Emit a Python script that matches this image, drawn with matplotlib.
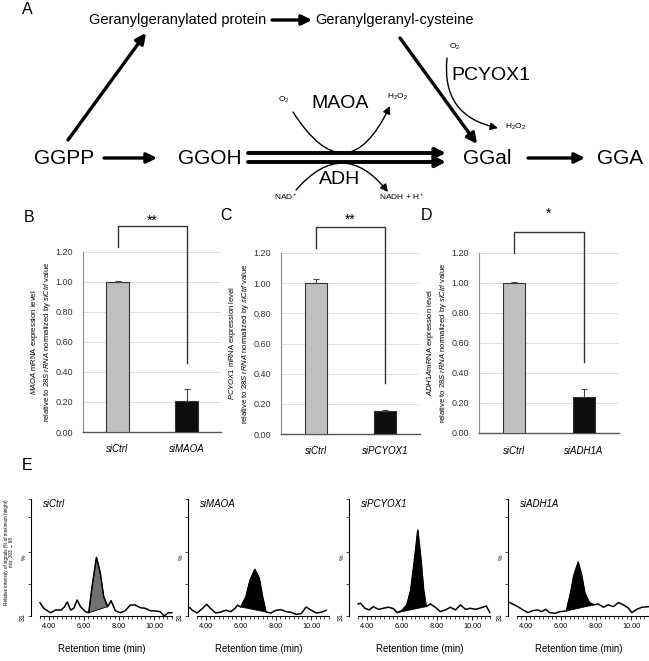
import matplotlib

matplotlib.use("Agg")
import matplotlib.pyplot as plt
import numpy as np
from matplotlib.ticker import FixedLocator

W, H = 649, 661

plt.rcParams["font.family"] = ["Liberation Sans", "DejaVu Sans"]
plt.rcParams["mathtext.fontset"] = "custom"
plt.rcParams["mathtext.rm"] = "Liberation Sans"
plt.rcParams["mathtext.it"] = "Liberation Sans:italic"

# ---- panel A: pathway labels
PATHWAY_NODES = ["GGPP", "GGOH", "GGal", "GGA"]
PROTEIN_NODES = ["Geranylgeranylated protein", "Geranylgeranyl-cysteine"]
ENZYMES = ["MAOA", "ADH", "PCYOX1"]

# ---- panels B-D: mRNA levels relative to siCtrl
CTRL_LABEL = "siCtrl"
KNOCKDOWNS = ["siMAOA", "siPCYOX1", "siADH1A"]
GENES = ["MAOA", "PCYOX1", "ADH1A"]
CTRL_MEAN = [1.00, 1.00, 1.00]
CTRL_ERR = [0.01, 0.03, 0.01]
KD_MEAN = [0.21, 0.15, 0.24]
KD_ERR = [0.08, 0.012, 0.055]
SIGNIF = ["**", "**", "*"]
BAR_YTICKS = [0.0, 0.2, 0.4, 0.6, 0.8, 1.0, 1.2]

# ---- panel E: chromatograms, retention time (min) vs % of max height
CTRL_T = [3.51, 3.73, 4.11, 4.40, 4.72, 4.91, 5.06, 5.25, 5.43, 5.62, 5.81, 6.09,
          6.28, 6.47, 6.72, 6.94, 7.13, 7.36, 7.55, 7.79, 8.07, 8.36, 8.64, 8.92,
          9.21, 9.49, 9.77, 10.06, 10.34, 10.56, 10.81, 11.0]
CTRL_V = [11.4, 6.5, 2.8, 5.1, 5.1, 8.0, 12.0, 5.1, 6.6, 13.7, 8.0, 3.7,
          2.8, 25.0, 50.2, 36.5, 16.5, 8.0, 13.1, 4.5, 2.8, 4.5, 9.4, 9.4,
          7.1, 6.6, 4.5, 4.3, 3.7, 0.0, 2.8, 2.8]

MAOA_T = [3.0, 3.10, 3.24, 3.52, 3.81, 4.06, 4.29, 4.57, 4.86, 5.14, 5.43, 5.66,
          5.81, 6.00, 6.29, 6.53, 6.80, 7.05, 7.24, 7.43, 7.71, 8.00, 8.29, 8.57,
          8.86, 9.14, 9.43, 9.71, 10.0, 10.29, 10.57, 10.86]
MAOA_V = [6.6, 7.2, 4.9, 2.6, 6.3, 10.0, 6.3, 2.6, 3.4, 4.9, 3.7, 6.3,
          9.2, 7.7, 16.3, 30.7, 39.8, 32.1, 16.3, 3.4, 2.6, 4.9, 5.4, 3.7,
          3.2, 1.4, 2.0, 7.7, 4.9, 2.6, 3.2, 4.9]

PCYOX1_T = [3.52, 3.66, 3.90, 4.15, 4.38, 4.67, 4.95, 5.24, 5.52, 5.75, 6.00, 6.29,
            6.51, 6.70, 6.91, 7.09, 7.24, 7.39, 7.62, 7.90, 8.19, 8.48, 8.76, 9.05,
            9.33, 9.62, 9.90, 10.19, 10.48, 10.80, 11.0]
PCYOX1_V = [10.3, 10.9, 6.6, 5.2, 8.0, 5.7, 6.6, 7.5, 6.3, 2.9, 4.6, 9.5,
            22.4, 45.4, 73.3, 48.3, 22.4, 8.0, 10.3, 7.5, 3.7, 5.2, 7.5, 5.2,
            9.5, 5.7, 6.6, 5.7, 6.9, 8.6, 2.9]

ADH1A_T = [3.0, 3.28, 3.56, 3.85, 4.13, 4.42, 4.70, 4.90, 5.14, 5.37, 5.66, 5.94,
           6.32, 6.55, 6.74, 6.99, 7.18, 7.37, 7.62, 7.89, 8.13, 8.42, 8.70, 8.99,
           9.28, 9.56, 9.85, 10.04, 10.32, 10.61, 10.99]
ADH1A_V = [12.1, 10.1, 8.0, 5.2, 2.9, 4.6, 5.2, 3.7, 5.7, 2.9, 2.3, 3.7,
           4.3, 19.5, 34.5, 46.0, 35.3, 19.5, 11.5, 9.5, 10.3, 7.5, 9.5, 8.0,
           11.5, 9.5, 6.6, 2.9, 5.7, 7.5, 8.0]

CHROM_TITLES = ["siCtrl", "siMAOA", "siPCYOX1", "siADH1A"]
CHROM_T = [CTRL_T, MAOA_T, PCYOX1_T, ADH1A_T]
CHROM_V = [CTRL_V, MAOA_V, PCYOX1_V, ADH1A_V]
PEAK_RANGE = [(6.28, 7.36), (6.00, 7.43), (5.75, 7.39), (6.32, 7.89)]
CHROM_XTICKS = [4, 6, 8, 10]


def px_axes(fig, x0, y0, x1, y1):
    return fig.add_axes([x0 / W, 1 - y1 / H, (x1 - x0) / W, (y1 - y0) / H])


def arrow(ax, start, end, lw=2.4, rad=0.0, head=0.6):
    ax.annotate("", xy=end, xytext=start,
                arrowprops=dict(arrowstyle=f"-|>,head_length={head},head_width={head * 0.5}",
                                lw=lw, color="black", shrinkA=0, shrinkB=0,
                                connectionstyle=f"arc3,rad={rad}"))


fig = plt.figure(figsize=(W / 100, H / 100), dpi=100)

# ---------------- panel A
diag = fig.add_axes([0, 0, 1, 1])
diag.set_xlim(0, W)
diag.set_ylim(H, 0)
diag.axis("off")

node_x = [64, 210, 487, 620]
for name, x in zip(PATHWAY_NODES, node_x):
    diag.text(x, 158, name, ha="center", va="center", fontsize=15)
diag.text(178, 20, PROTEIN_NODES[0], ha="center", va="center", fontsize=10.5)
diag.text(395, 20, PROTEIN_NODES[1], ha="center", va="center", fontsize=10.5)

arrow(diag, (272, 20), (312, 20))
arrow(diag, (104, 158), (157, 158))
arrow(diag, (68, 140), (146, 33))
arrow(diag, (400, 38), (477, 144))
arrow(diag, (248, 153), (446, 153), lw=2.8)
arrow(diag, (248, 162), (446, 162), lw=2.8)
arrow(diag, (528, 158), (585, 158))

diag.text(340, 104, ENZYMES[0], ha="center", va="center", fontsize=14)
diag.text(340, 179, ENZYMES[1], ha="center", va="center", fontsize=14)
diag.text(491, 75, ENZYMES[2], ha="center", va="center", fontsize=14)

diag.text(284, 100, r"O$_2$", ha="center", va="center", fontsize=6)
diag.text(398, 97, r"H$_2$O$_2$", ha="center", va="center", fontsize=6)
diag.text(286, 197, r"NAD$^+$", ha="center", va="center", fontsize=6)
diag.text(402, 197, r"NADH + H$^+$", ha="center", va="center", fontsize=6)
diag.text(455, 47, r"O$_2$", ha="center", va="center", fontsize=6)
diag.text(516, 127, r"H$_2$O$_2$", ha="center", va="center", fontsize=6)

arrow(diag, (293, 112), (390, 106), lw=1.0, rad=0.9, head=0.45)
arrow(diag, (296, 190), (388, 192), lw=1.0, rad=-0.6, head=0.45)
arrow(diag, (447, 58), (498, 128), lw=1.0, rad=0.45, head=0.45)

# ---------------- panels B-D
bar_boxes = [(83, 252, 221, 432), (281, 253, 420, 434), (479, 253, 619, 433)]
bracket_left = [1.23, 1.23, 1.20]
bracket_top = [1.37, 1.37, 1.34]
bracket_right = [0.46, 0.34, 0.475]
star_y = [1.41, 1.42, 1.46]

for i, box in enumerate(bar_boxes):
    ax = px_axes(fig, *box)
    means = [CTRL_MEAN[i], KD_MEAN[i]]
    errs = [CTRL_ERR[i], KD_ERR[i]]
    ax.bar([0, 1], means, width=0.32, color=["#bfbfbf", "#0d0d0d"],
           edgecolor="#333333", linewidth=0.8, zorder=3)
    ax.errorbar([0, 1], means, yerr=[[0, 0], errs], fmt="none", ecolor="#444444",
                elinewidth=0.8, capsize=2, capthick=0.8, zorder=4)
    ax.set_xlim(-0.5, 1.5)
    ax.set_ylim(0, 1.2)
    ax.set_yticks(BAR_YTICKS, [f"{v:.2f}" for v in BAR_YTICKS])
    ax.set_xticks([0, 1], [CTRL_LABEL, KNOCKDOWNS[i]], fontstyle="italic")
    ax.yaxis.grid(True, color="#d9d9d9", linewidth=0.6)
    ax.set_axisbelow(True)
    for s in ["top", "right"]:
        ax.spines[s].set_visible(False)
    ax.spines["left"].set_color("#8c8c8c")
    ax.spines["left"].set_linewidth(0.8)
    ax.spines["bottom"].set_color("#555555")
    ax.spines["bottom"].set_linewidth(1.0)
    ax.tick_params(axis="y", length=0, pad=7, labelsize=6.5, labelcolor="#333333")
    ax.tick_params(axis="x", length=0, pad=9, labelsize=7)

    gene = GENES[i]
    gap = "" if gene == "ADH1A" else " "
    ax.set_ylabel(f"$\\it{{{gene}}}${gap}mRNA expression level\n"
                  "relative to $\\it{28S\\ rRNA}$ normalized by $\\it{siCtrl}$ value",
                  fontsize=5.5, labelpad=2)

    ax.plot([0, 0, 1, 1], [bracket_left[i], bracket_top[i], bracket_top[i], bracket_right[i]],
            color="#333333", lw=1.0, clip_on=False)
    ax.text(0.5, star_y[i], SIGNIF[i], ha="center", va="center", fontsize=10, clip_on=False)

for letter, x, y in [("A", 27, 10), ("B", 29, 217), ("C", 226, 215), ("D", 426, 215), ("E", 27, 465)]:
    fig.text(x / W, 1 - y / H, letter, ha="center", va="center", fontsize=11.5)

# ---------------- panel E
chrom_left = [31, 188, 349, 508]
xlo, xhi = 3.0, 11.05
px_per_min = 17.6
for i, left in enumerate(chrom_left):
    ax = px_axes(fig, left, 499, left + (xhi - xlo) * px_per_min, 616)
    t = np.array(CHROM_T[i])
    v = np.array(CHROM_V[i])
    a, b = PEAK_RANGE[i]
    m = (t >= a) & (t <= b)
    ax.fill(t[m], v[m], color="#707070" if i == 0 else "black",
            edgecolor="black", linewidth=0.6, zorder=2)
    ax.plot(t, v, color="black", lw=1.1, zorder=3)

    ax.set_xlim(xlo, xhi)
    ax.set_ylim(0, 100)
    for s in ["top", "right"]:
        ax.spines[s].set_visible(False)
    ax.spines["bottom"].set_bounds(3.5, 11.0)
    ax.spines["left"].set_bounds(0, 100)
    ax.spines["bottom"].set_linewidth(0.8)
    ax.spines["left"].set_linewidth(0.8)

    ax.set_xticks(CHROM_XTICKS, [f"{x:.2f}" for x in CHROM_XTICKS])
    ax.xaxis.set_minor_locator(FixedLocator(np.arange(3.5, 11.01, 0.25)))
    ax.tick_params(axis="x", which="major", length=3, width=0.6, pad=2, labelsize=5.2)
    ax.tick_params(axis="x", which="minor", length=2, width=0.5)
    ax.set_yticks([0], ["31"])
    ax.yaxis.set_minor_locator(FixedLocator([27, 55, 85, 100]))
    ax.tick_params(axis="y", which="major", length=2, width=0.5, pad=1, labelsize=5,
                   labelrotation=90)
    ax.tick_params(axis="y", which="minor", length=2, width=0.5)
    ax.text(-0.045, 0.5, "%", transform=ax.transAxes, rotation=90, fontsize=4.5,
            ha="center", va="center")
    ax.text(0.085, 0.96, CHROM_TITLES[i], transform=ax.transAxes, fontsize=7,
            fontstyle="italic", ha="left", va="center")
    ax.set_xlabel("Retention time (min)", fontsize=7, labelpad=10)

fig.text(9 / W, 1 - 552 / H,
         "Relative intensity of signals (% of maximum height)\nm/z: 303 \u2192 98",
         rotation=90, fontsize=3.3, ha="center", va="center")

fig.savefig("out.png", dpi=100)
